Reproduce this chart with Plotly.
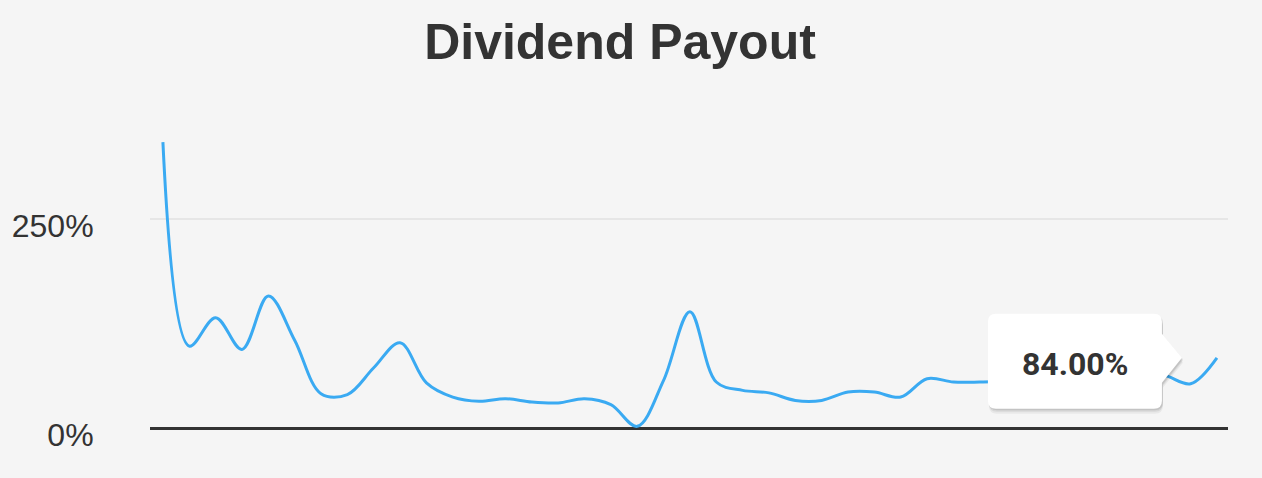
import plotly.graph_objects as go

# Dividend payout ratio (%) per period
periods = list(range(41))
payout = [342, 98, 132, 94, 158, 105, 41, 40, 72, 102,
          54, 37, 32, 35, 31, 30, 35, 28, 2, 57,
          139, 55, 45, 42, 33, 33, 43, 43, 37, 59,
          55, 55, 56, 57, 58, 60, 62, 64, 63, 53,
          84]
tick_vals = [0, 250]
tick_text = ["0%", "250%"]
tooltip_text = "84.00%"

BG = "#f5f5f5"
LINE = "#3aaaf2"
TEXT = "#333333"

fig = go.Figure()
fig.add_trace(go.Scatter(
    x=periods, y=payout, mode="lines",
    line=dict(color=LINE, width=3, shape="spline", smoothing=1.0),
    hoverinfo="skip", showlegend=False,
))

last_x = periods[-1]
last_y = payout[-1]

def box_path(dx=0, dy=0):
    # rounded box with a right-pointing arrow, pixel coords relative to anchor (y up)
    x0, x1 = -229 + dx, -55 + dx
    y0, y1 = -51 + dy, 44 + dy
    r = 8
    ab, at = -25 + dy, 24 + dy
    tip_x, tip_y = -35 + dx, 0 + dy
    return (f"M {x0 + r},{y1} L {x1 - r},{y1} Q {x1},{y1} {x1},{y1 - r} "
            f"L {x1},{at} L {tip_x},{tip_y} L {x1},{ab} "
            f"L {x1},{y0 + r} Q {x1},{y0} {x1 - r},{y0} "
            f"L {x0 + r},{y0} Q {x0},{y0} {x0},{y0 + r} "
            f"L {x0},{y1 - r} Q {x0},{y1} {x0 + r},{y1} Z")

shapes = []
# soft shadow layers
for off, alpha in [(5, 0.05), (3, 0.07), (1.5, 0.09)]:
    shapes.append(dict(
        type="path", xref="x", yref="y", xsizemode="pixel", ysizemode="pixel",
        xanchor=last_x, yanchor=last_y, path=box_path(1, -off),
        fillcolor=f"rgba(0,0,0,{alpha})", line=dict(width=0), layer="above",
    ))
shapes.append(dict(
    type="path", xref="x", yref="y", xsizemode="pixel", ysizemode="pixel",
    xanchor=last_x, yanchor=last_y, path=box_path(),
    fillcolor="#ffffff", line=dict(width=0), layer="above",
))

fig.update_layout(
    width=1262, height=478,
    paper_bgcolor=BG, plot_bgcolor=BG,
    margin=dict(l=150, r=34, t=100, b=38),
    title=dict(text="<b>Dividend Payout</b>", x=620 / 1262, xanchor="center",
               xref="container", y=1 - 41 / 478, yanchor="middle", yref="container",
               font=dict(family="Liberation Sans, Arial, sans-serif", size=50, color=TEXT)),
    xaxis=dict(range=[-0.49, 40.42], visible=False, showgrid=False, zeroline=False),
    yaxis=dict(range=[-14.35, 392.3], tickvals=tick_vals, ticktext=tick_text,
               showgrid=True, gridcolor="#e6e6e6", gridwidth=2,
               zeroline=True, zerolinecolor=TEXT, zerolinewidth=3,
               showline=False, ticks="outside", ticklen=49, tickcolor="rgba(0,0,0,0)",
               ticklabelshift=7,
               tickfont=dict(family="Liberation Sans, Arial, sans-serif", size=32, color=TEXT)),
    shapes=shapes,
    annotations=[dict(
        x=last_x, y=last_y, xref="x", yref="y", text=f"<b>{tooltip_text}</b>",
        showarrow=False, xshift=-142, yshift=-6, xanchor="center", yanchor="middle",
        font=dict(family="Roboto, Liberation Sans, Arial, sans-serif", size=32, color=TEXT),
    )],
)

fig.write_html(
    "out.html",
    config={"displayModeBar": False, "staticPlot": True},
    post_script="document.body.style.margin='0';document.body.style.overflow='hidden';"
                "document.body.style.background='" + BG + "';",
)
